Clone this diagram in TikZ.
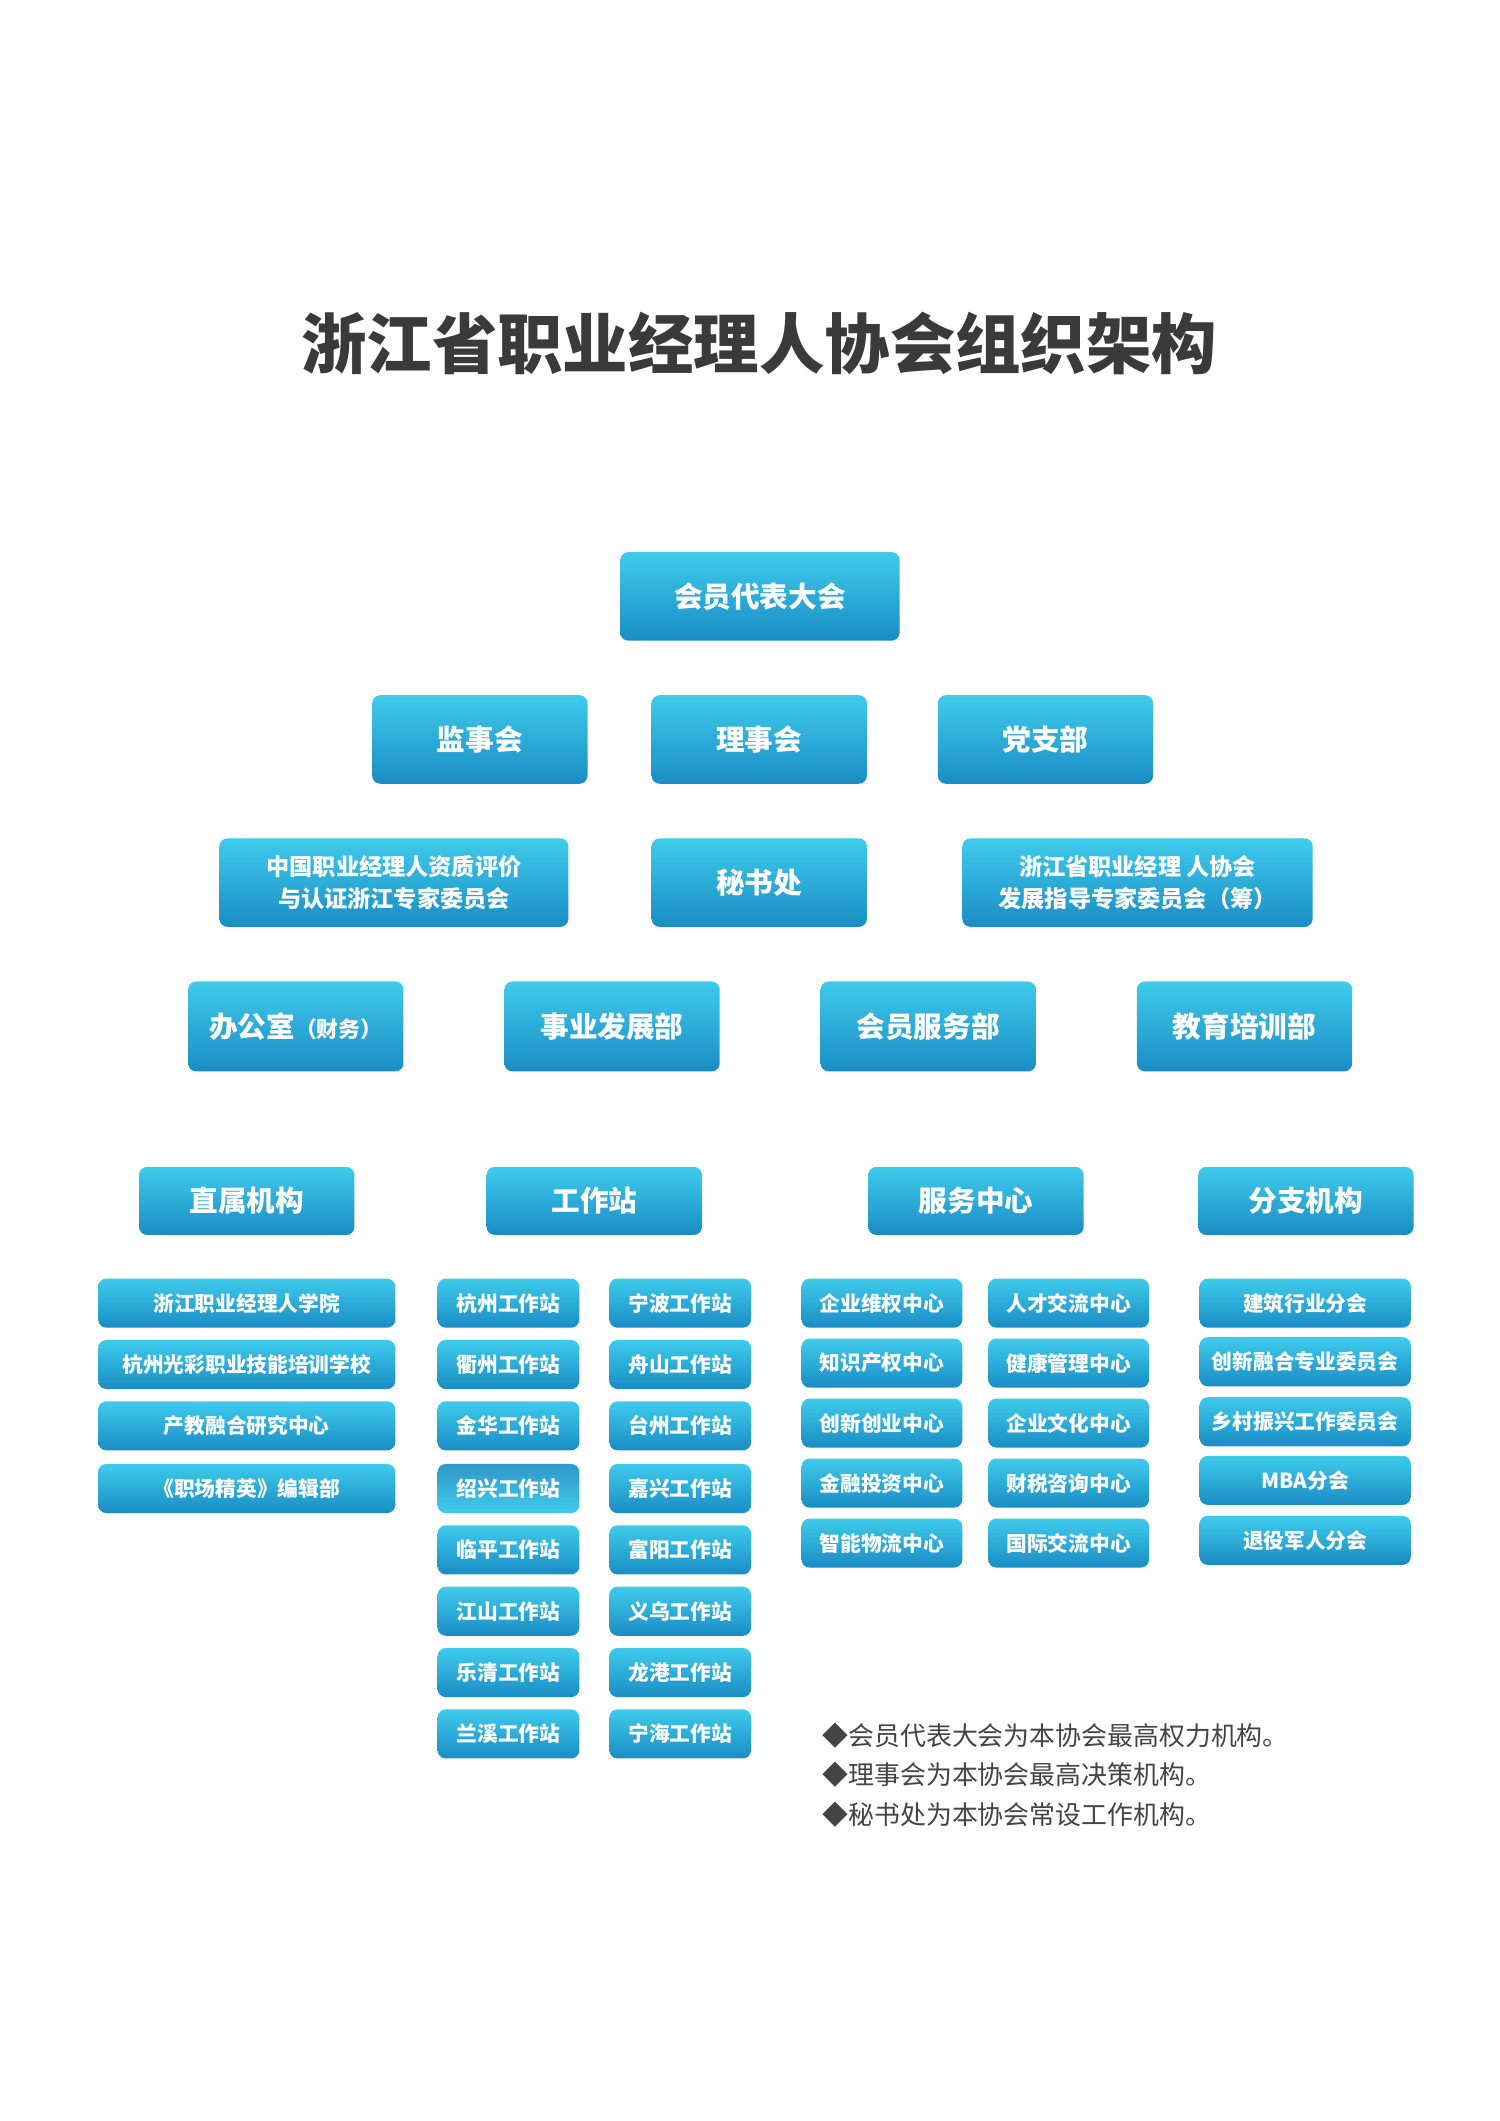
\documentclass[tikz,border=0pt]{standalone}
\usepackage{fontspec}
\setmainfont{Noto Sans CJK SC}
\usetikzlibrary{backgrounds}
\definecolor{topc}{HTML}{3FCBEC}
\definecolor{botc}{HTML}{1A8CC4}
\definecolor{linec}{HTML}{1896C8}
\definecolor{titlec}{HTML}{3A3A3A}
\definecolor{notec}{HTML}{444444}
\tikzset{
  box/.style={rounded corners=3pt,top color=topc,bottom color=botc,draw=none,
    text=white,font=\bfseries,inner sep=0pt,align=center},
  boxrev/.style={top color=botc!90!white,bottom color=topc},
  big/.style={font=\bfseries\fontsize{10.5}{13}\selectfont},
  mid/.style={font=\bfseries\fontsize{8.5}{12}\selectfont},
  sml/.style={font=\bfseries\fontsize{7.6}{9}\selectfont},
  conn/.style={draw=linec,line width=1.5pt},
  note/.style={anchor=west,text=notec,font=\fontsize{9.5}{11}\selectfont,inner sep=0pt}
}
\newcommand\bx[7][]{\node[box,#1,minimum width={(#5-#3)*0.5pt},minimum height={(#6-#4)*0.5pt}] (#2) at ({(#3+#5)/2},{(#4+#6)/2}) {#7};}
\begin{document}
\begin{tikzpicture}[x=0.5pt,y=-0.5pt]
\path[use as bounding box,fill=white] (0,0) rectangle (1100,1556);
\node[text=titlec,font=\bfseries\fontsize{24}{28}\selectfont] (title) at (557,252) {浙江省职业经理人协会组织架构};
% level boxes
\bx[big]{top}{455}{405}{660}{470}{会员代表大会}
\bx[big]{jian}{273}{510}{431}{575}{监事会}
\bx[big]{li}{478}{510}{636}{575}{理事会}
\bx[big]{dang}{688}{510}{846}{575}{党支部}
\bx[mid]{zg}{161}{615}{417}{680}{中国职业经理人资质评价\\与认证浙江专家委员会}
\bx[big]{mi}{478}{615}{636}{680}{秘书处}
\bx[mid]{zj}{706}{615}{963}{680}{浙江省职业经理 人协会\\发展指导专家委员会（筹）}
\bx[big]{ban}{138}{720}{296}{786}{办公室{\fontsize{8}{9}\selectfont（财务）}}
\bx[big]{shi}{370}{720}{528}{786}{事业发展部}
\bx[big]{hui}{602}{720}{760}{786}{会员服务部}
\bx[big]{jiao}{834}{720}{992}{786}{教育培训部}
\bx[big]{zs}{102}{856}{260}{906}{直属机构}
\bx[big]{gz}{357}{856}{515}{906}{工作站}
\bx[big]{fw}{637}{856}{795}{906}{服务中心}
\bx[big]{fz}{879}{856}{1037}{906}{分支机构}
% column 1
\bx[sml]{a1}{72}{938}{290}{974}{浙江职业经理人学院}
\bx[sml]{a2}{72}{983}{290}{1019}{杭州光彩职业技能培训学校}
\bx[sml]{a3}{72}{1028}{290}{1064}{产教融合研究中心}
\bx[sml]{a4}{72}{1074}{290}{1110}{《职场精英》编辑部}
% column 2
\bx[sml]{l1}{321}{938}{425}{974}{杭州工作站}
\bx[sml]{l2}{321}{983}{425}{1019}{衢州工作站}
\bx[sml]{l3}{321}{1028}{425}{1064}{金华工作站}
\bx[sml,boxrev]{l4}{321}{1074}{425}{1110}{绍兴工作站}
\bx[sml]{l5}{321}{1119}{425}{1155}{临平工作站}
\bx[sml]{l6}{321}{1164}{425}{1200}{江山工作站}
\bx[sml]{l7}{321}{1209}{425}{1245}{乐清工作站}
\bx[sml]{l8}{321}{1254}{425}{1290}{兰溪工作站}
\bx[sml]{r1}{447}{938}{551}{974}{宁波工作站}
\bx[sml]{r2}{447}{983}{551}{1019}{舟山工作站}
\bx[sml]{r3}{447}{1028}{551}{1064}{台州工作站}
\bx[sml]{r4}{447}{1074}{551}{1110}{嘉兴工作站}
\bx[sml]{r5}{447}{1119}{551}{1155}{富阳工作站}
\bx[sml]{r6}{447}{1164}{551}{1200}{义乌工作站}
\bx[sml]{r7}{447}{1209}{551}{1245}{龙港工作站}
\bx[sml]{r8}{447}{1254}{551}{1290}{宁海工作站}
% column 3
\bx[sml]{s1}{588}{938}{706}{974}{企业维权中心}
\bx[sml]{s2}{588}{982}{706}{1018}{知识产权中心}
\bx[sml]{s3}{588}{1026}{706}{1062}{创新创业中心}
\bx[sml]{s4}{588}{1070}{706}{1106}{金融投资中心}
\bx[sml]{s5}{588}{1114}{706}{1150}{智能物流中心}
\bx[sml]{t1}{725}{938}{843}{974}{人才交流中心}
\bx[sml]{t2}{725}{982}{843}{1018}{健康管理中心}
\bx[sml]{t3}{725}{1026}{843}{1062}{企业文化中心}
\bx[sml]{t4}{725}{1070}{843}{1106}{财税咨询中心}
\bx[sml]{t5}{725}{1114}{843}{1150}{国际交流中心}
% column 4
\bx[sml]{f1}{880}{938}{1035}{974}{建筑行业分会}
\bx[sml]{f2}{880}{981}{1035}{1017}{创新融合专业委员会}
\bx[sml]{f3}{880}{1025}{1035}{1061}{乡村振兴工作委员会}
\bx[sml]{f4}{880}{1068}{1035}{1104}{MBA分会}
\bx[sml]{f5}{880}{1112}{1035}{1148}{退役军人分会}
\coordinate (bus) at (557,826);
\coordinate (gb) at (436,926);
\coordinate (fb) at (716,926);
\begin{scope}[on background layer]
\draw[conn] (top) -- (li);
\draw[conn] (jian) -- (li);
\draw[conn] (li) -- (dang);
\draw[conn] (li) -- (mi);
\draw[conn] (zg) -- (mi);
\draw[conn] (mi) -- (zj);
\draw[conn] (mi.south) -- (bus);
\draw[conn] (ban) -- (shi);
\draw[conn] (shi) -- (hui);
\draw[conn] (hui) -- (jiao);
\draw[conn] (zs.north) |- (bus) -| (fz.north);
\draw[conn] (gz.north) -- (gz.north |- bus);
\draw[conn] (fw.north) -- (fw.north |- bus);
\draw[conn] (zs.south) -- (a4.north);
\draw[conn] (gz.south) -- (gb);
\draw[conn] (l1.north) |- (gb) -| (r1.north);
\draw[conn] (l1.south) -- (l8.north);
\draw[conn] (r1.south) -- (r8.north);
\draw[conn] (fw.south) -- (fb);
\draw[conn] (s1.north) |- (fb) -| (t1.north);
\draw[conn] (s1.south) -- (s5.north);
\draw[conn] (t1.south) -- (t5.north);
\draw[conn] (fz.south) -- (f5.north);
\end{scope}
\node[note] (n1) at (603,1273) {◆会员代表大会为本协会最高权力机构。};
\node[note] (n2) at (603,1302) {◆理事会为本协会最高决策机构。};
\node[note] (n3) at (603,1331) {◆秘书处为本协会常设工作机构。};
\end{tikzpicture}
\end{document}
